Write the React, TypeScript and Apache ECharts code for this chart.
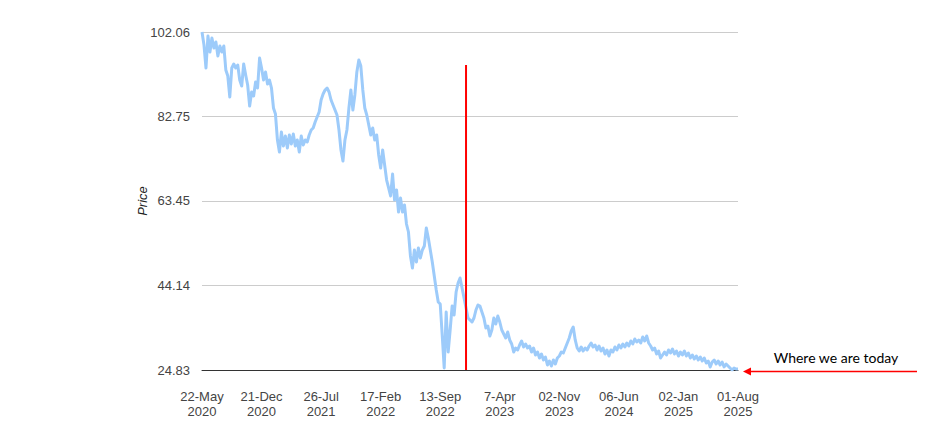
import { useEffect, useRef } from "react";
import * as echarts from "echarts";

const xTickLabels = [
  "22-May\n2020",
  "21-Dec\n2020",
  "26-Jul\n2021",
  "17-Feb\n2022",
  "13-Sep\n2022",
  "7-Apr\n2023",
  "02-Nov\n2023",
  "06-Jun\n2024",
  "02-Jan\n2025",
  "01-Aug\n2025",
];
const xTickStep = 30;

const yTickValues = [24.83, 44.14, 63.45, 82.75, 102.06];

const prices2020 = [
  102.06, 99.09, 93.83, 101.15, 97.49, 100.69, 98.4, 99.78, 96.58, 98.86,
  97.49, 98.86, 93.38, 92.01, 87.21, 93.83, 94.75, 93.83, 94.52, 91.09,
  89.72, 94.75, 92.23, 89.95, 85.15, 88.35, 87.44, 90.64, 89.26, 96.12,
  93.83, 91.09, 92.92, 90.18, 91.09, 89.26, 84.69, 83.32, 77.38, 74.64,
  79.21, 76.01, 78.3, 75.56, 78.53, 76.47, 78.75, 76.01, 77.38, 74.64,
  78.3,
];
const prices2021 = [
  76.24, 77.38, 76.93, 78.53, 79.67, 80.13, 81.5, 82.64, 83.78, 86.52,
  87.89, 88.81, 89.26, 88.35, 86.52, 85.38, 84.24, 83.1, 79.67, 75.1,
  72.58, 77.38, 79.67, 84.69, 88.81, 84.24, 87.67, 92.92, 95.66, 94.29,
  88.81, 84.69, 83.1, 80.81, 78.53, 80.13, 77.38, 78.53, 73.96, 70.99,
  75.1, 71.67, 68.24, 66.42, 64.59, 69.61, 63.67, 65.96, 60.93, 64.13,
];
const prices2022 = [
  60.93, 62.53, 58.19, 56.36, 50.88, 48.14, 52.25, 49.51, 52.71, 50.42,
  52.25, 53.16, 57.28, 54.99, 52.25, 49.51, 46.31, 43.11, 40.37, 39.91,
  32.83, 25.29, 38.08, 28.94, 33.97, 39.45, 37.4, 42.65, 44.71, 45.85,
  43.57, 41.28, 39.0, 36.71, 36.25, 35.8, 36.71, 38.54, 39.68,
];
const prices2023 = [
  39.45, 38.08, 36.71, 34.43, 34.88, 32.6, 33.97, 36.71, 35.34, 37.17,
  35.8, 33.97, 33.06, 32.14, 33.51, 31.69, 30.77, 28.94, 29.86, 29.4,
  30.54, 31.46, 30.09, 30.77, 29.86, 30.31, 28.94, 29.86, 28.26, 28.94,
  27.57, 28.49, 27.12, 27.8, 25.97, 26.89, 25.74, 27.12, 26.2, 27.57,
  28.03, 28.94, 28.71, 29.86, 31.0, 32.14, 33.74, 34.66, 31.69, 29.86,
  29.17, 30.09, 29.17, 29.86, 29.4, 30.31, 31.0, 30.09, 30.54, 29.4,
  30.31, 29.17,
];
const prices2024 = [
  29.86, 28.49, 29.4, 28.03, 29.4, 28.94, 30.09, 29.4, 30.54, 29.86,
  30.77, 30.09, 31.0, 30.31, 31.46, 30.77, 31.91, 31.23, 31.69, 31.0,
  32.37, 31.46, 32.6, 31.0, 30.31, 29.4, 29.86, 28.49, 29.17, 27.57,
  28.26, 28.94, 28.26, 29.4, 28.71, 29.63, 28.49, 29.17, 28.03, 28.94,
  28.26, 29.17, 28.03, 28.71, 27.57, 28.26, 27.34, 28.03, 27.12, 27.8,
  26.89, 27.57, 26.43, 26.89, 25.52, 26.66, 27.12, 26.2, 26.89, 25.97,
  26.66, 25.52, 26.2, 25.74, 25.29, 24.83, 25.29, 25.06, 25.06,
];
const prices = [
  ...prices2020,
  ...prices2021,
  ...prices2022,
  ...prices2023,
  ...prices2024,
];

const eventIndex = 133;
const eventTop = 94.52;
const todayLabel = "Where we are today";

export default function App() {
  const ref = useRef<HTMLDivElement>(null);

  useEffect(() => {
    if (!ref.current) return;
    const chart = echarts.init(ref.current, null, { renderer: "svg" });
    const yMin = yTickValues[0];
    const yMax = yTickValues[yTickValues.length - 1];
    const xMax = (xTickLabels.length - 1) * xTickStep;
    const font = "Liberation Sans, Arial, sans-serif";

    chart.setOption({
      animation: false,
      backgroundColor: "#ffffff",
      grid: { left: 202, right: 197, top: 32, bottom: 59 },
      xAxis: {
        type: "value",
        min: 0,
        max: xMax,
        interval: xTickStep,
        axisLine: { show: true, lineStyle: { color: "#333333", width: 1 } },
        axisTick: { show: false },
        splitLine: { show: false },
        axisLabel: {
          margin: 19,
          color: "#444444",
          fontFamily: font,
          fontSize: 13,
          lineHeight: 15,
          formatter: (v: number) => xTickLabels[Math.round(v / xTickStep)] ?? "",
        },
      },
      yAxis: {
        type: "value",
        min: yMin,
        max: yMax,
        name: "Price",
        nameLocation: "middle",
        nameGap: 53,
        nameMoveOverlap: false,
        nameTextStyle: {
          color: "#222222",
          fontStyle: "italic",
          fontFamily: font,
          fontSize: 13,
        },
        axisLine: { show: false },
        axisTick: { show: false, customValues: yTickValues },
        splitLine: { show: true, lineStyle: { color: "#cccccc", width: 1 } },
        axisLabel: {
          customValues: yTickValues,
          margin: 12,
          color: "#444444",
          fontFamily: font,
          fontSize: 13,
          formatter: (v: number) => v.toFixed(2),
        },
      },
      series: [
        {
          type: "line",
          data: prices.map((p, i) => [i, p]),
          showSymbol: false,
          lineStyle: { color: "#9dcbfa", width: 3, join: "round" },
          itemStyle: { color: "#9dcbfa" },
          z: 3,
        },
        {
          type: "line",
          data: [
            [eventIndex, yMin],
            [eventIndex, eventTop],
          ],
          showSymbol: false,
          silent: true,
          lineStyle: { color: "#ff0000", width: 2 },
          itemStyle: { color: "#ff0000" },
          z: 4,
        },
      ],
      graphic: [
        {
          type: "line",
          shape: { x1: 750, y1: 371.5, x2: 917, y2: 371.5 },
          style: { stroke: "#ff0000", lineWidth: 1.5 },
        },
        {
          type: "polygon",
          shape: { points: [[743, 371.5], [751, 367.5], [751, 375.5]] },
          style: { fill: "#ff0000" },
        },
        {
          type: "text",
          style: {
            text: todayLabel,
            x: 836,
            y: 357,
            align: "center",
            verticalAlign: "middle",
            fill: "#000000",
            font: "14px Lato, 'Open Sans', sans-serif",
          },
        },
      ],
    });

    return () => chart.dispose();
  }, []);

  return (
    <div
      ref={ref}
      style={{ position: "absolute", left: 0, top: 0, width: 935, height: 429 }}
    />
  );
}
